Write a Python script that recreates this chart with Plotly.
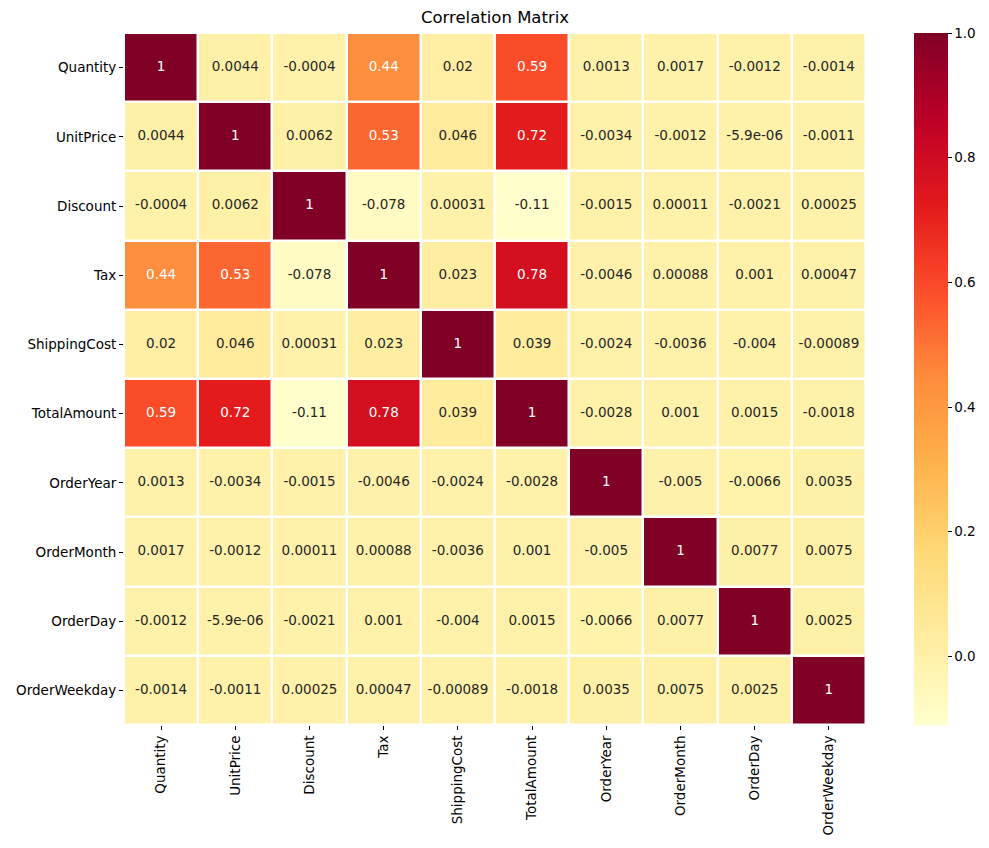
import plotly.graph_objects as go

labels = ["Quantity", "UnitPrice", "Discount", "Tax", "ShippingCost",
          "TotalAmount", "OrderYear", "OrderMonth", "OrderDay", "OrderWeekday"]

row_quantity = [1, 0.0044, -0.0004, 0.44, 0.02, 0.59, 0.0013, 0.0017, -0.0012, -0.0014]
row_unitprice = [0.0044, 1, 0.0062, 0.53, 0.046, 0.72, -0.0034, -0.0012, -5.9e-06, -0.0011]
row_discount = [-0.0004, 0.0062, 1, -0.078, 0.00031, -0.11, -0.0015, 0.00011, -0.0021, 0.00025]
row_tax = [0.44, 0.53, -0.078, 1, 0.023, 0.78, -0.0046, 0.00088, 0.001, 0.00047]
row_shipping = [0.02, 0.046, 0.00031, 0.023, 1, 0.039, -0.0024, -0.0036, -0.004, -0.00089]
row_total = [0.59, 0.72, -0.11, 0.78, 0.039, 1, -0.0028, 0.001, 0.0015, -0.0018]
row_year = [0.0013, -0.0034, -0.0015, -0.0046, -0.0024, -0.0028, 1, -0.005, -0.0066, 0.0035]
row_month = [0.0017, -0.0012, 0.00011, 0.00088, -0.0036, 0.001, -0.005, 1, 0.0077, 0.0075]
row_day = [-0.0012, -5.9e-06, -0.0021, 0.001, -0.004, 0.0015, -0.0066, 0.0077, 1, 0.0025]
row_weekday = [-0.0014, -0.0011, 0.00025, 0.00047, -0.00089, -0.0018, 0.0035, 0.0075, 0.0025, 1]

z = [row_quantity, row_unitprice, row_discount, row_tax, row_shipping,
     row_total, row_year, row_month, row_day, row_weekday]

colorbar_ticks = [0.0, 0.2, 0.4, 0.6, 0.8, 1.0]

ylorrd = [
    [0.0, "#ffffcc"], [0.125, "#ffeda0"], [0.25, "#fed976"], [0.375, "#feb24c"],
    [0.5, "#fd8d3c"], [0.625, "#fc4e2a"], [0.75, "#e31a1c"], [0.875, "#bd0026"],
    [1.0, "#800026"],
]

zmin = min(min(r) for r in z)
zmax = 1.0

def fmt(v):
    return format(v, ".2g")

xs, ys, txt, cols = [], [], [], []
for i, r in enumerate(labels):
    for j, c in enumerate(labels):
        v = z[i][j]
        xs.append(c)
        ys.append(r)
        txt.append(fmt(v))
        cols.append("#ffffff" if v >= 0.4 else "#262626")

FS = 13.5
FIG_W, FIG_H = 973, 832   # page body has an 8px margin
ML, MT = 116, 25
PW, PH = 742, 692

fig = go.Figure()
fig.add_trace(go.Heatmap(
    z=z, x=labels, y=labels, colorscale=ylorrd, zmin=zmin, zmax=zmax,
    xgap=2.5, ygap=2.5, hoverinfo="skip",
    colorbar=dict(
        x=(914 - 124) / PW, xanchor="left", xpad=0, ypad=0,
        thickness=34, thicknessmode="pixels", len=1, lenmode="fraction",
        y=0.5, yanchor="middle", outlinewidth=0,
        tickvals=colorbar_ticks, ticktext=[f"{t:.1f}" for t in colorbar_ticks],
        ticks="outside", ticklen=4, tickwidth=1, tickcolor="#000",
        tickfont=dict(family="DejaVu Sans", size=FS, color="#000"),
    ),
))
fig.add_trace(go.Scatter(
    x=xs, y=ys, mode="text", text=txt,
    textfont=dict(family="DejaVu Sans", size=FS, color=cols),
    hoverinfo="skip", showlegend=False,
))

fig.update_layout(
    width=FIG_W, height=FIG_H,
    margin=dict(l=ML, r=FIG_W - ML - PW, t=MT, b=FIG_H - MT - PH, autoexpand=False),
    paper_bgcolor="white", plot_bgcolor="white",
    title=dict(text="Correlation Matrix", x=0.5, xref="paper", xanchor="center",
               y=1 - 9 / FIG_H, yanchor="middle",
               font=dict(family="DejaVu Sans", size=16.5, color="#000")),
    showlegend=False,
)
fig.update_xaxes(type="category", showgrid=False, zeroline=False, showline=False,
                 ticks="outside", ticklen=4, tickcolor="#000", tickangle=-90,
                 automargin=False,
                 tickfont=dict(family="DejaVu Sans", size=FS, color="#000"))
fig.update_yaxes(type="category", autorange="reversed", showgrid=False, zeroline=False,
                 showline=False, ticks="outside", ticklen=4, tickcolor="#000",
                 automargin=False,
                 tickfont=dict(family="DejaVu Sans", size=FS, color="#000"))

fig.write_html("out.html")
